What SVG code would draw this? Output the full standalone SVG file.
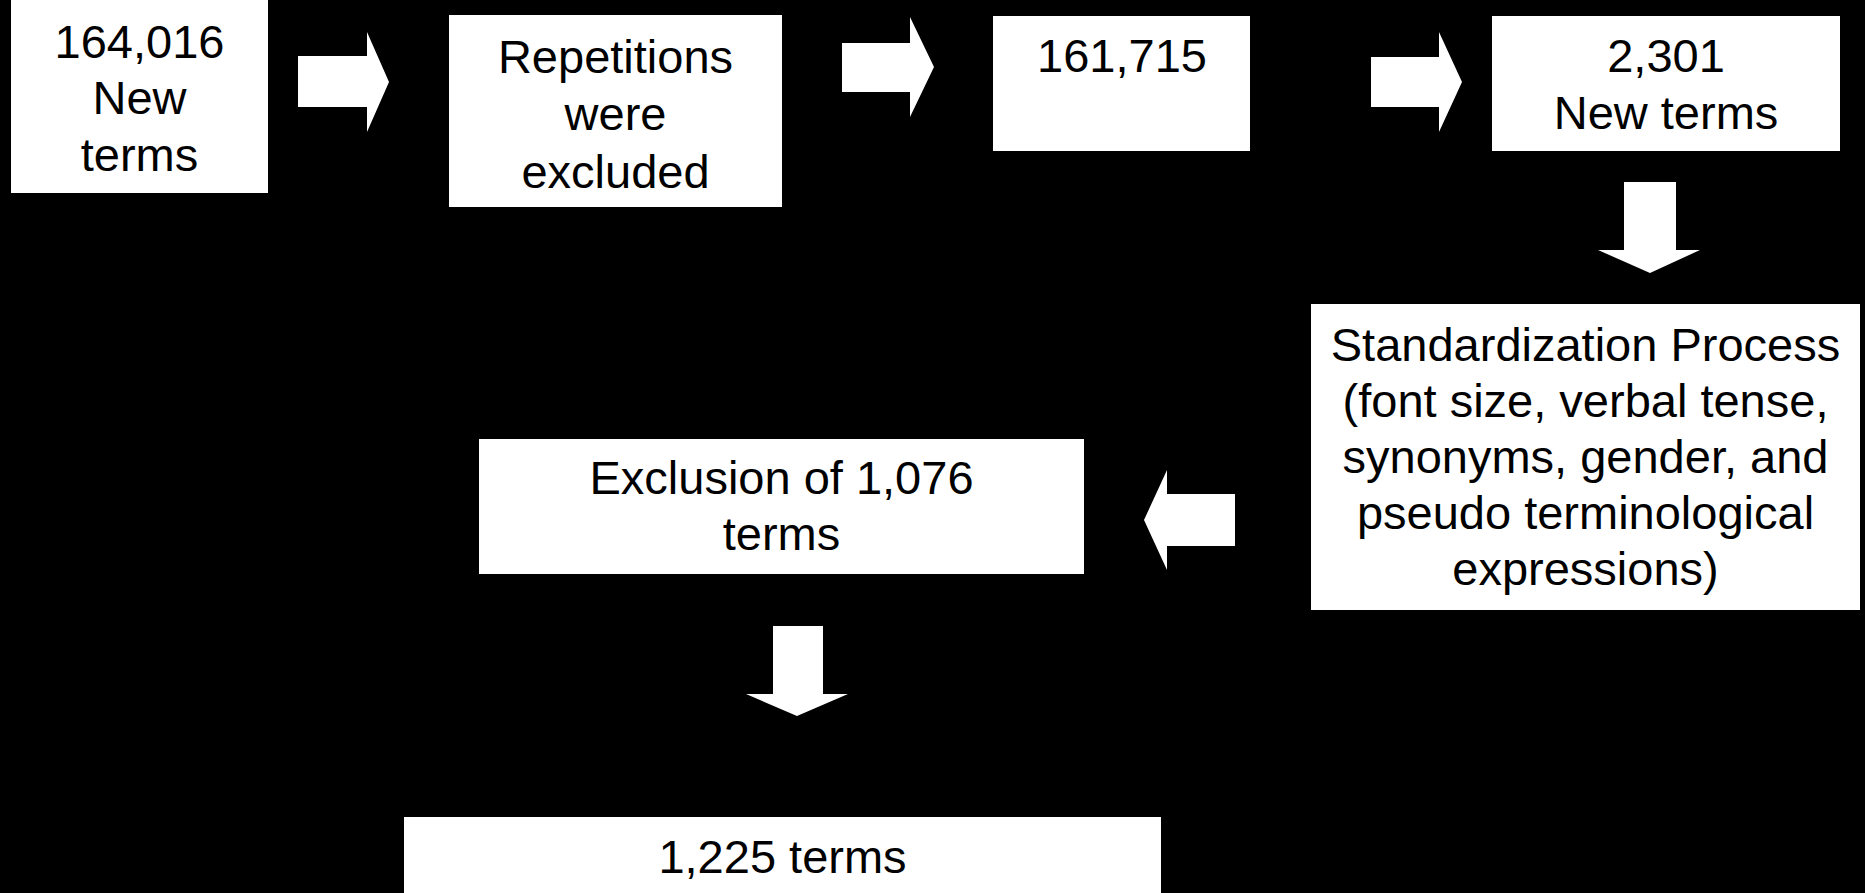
<svg xmlns="http://www.w3.org/2000/svg" width="1865" height="893" viewBox="0 0 1865 893">
<style>
.box{fill:#ffffff;stroke:none}
.arr{fill:#ffffff;stroke:none}
.t{font-family:"Liberation Sans",Arial,sans-serif;font-size:47px;fill:#000000;text-anchor:middle}
</style>
<rect x="0" y="0" width="1865" height="893" fill="#000000"/>
<g id="connectors">
<path class="arr" d="M298,56 H367 V32 L389,82 L367,132 V107 H298 Z"/>
<path class="arr" d="M842,43 H910 V17 L934,67 L910,117 V92 H842 Z"/>
<path class="arr" d="M1371,57 H1439 V32 L1462,82 L1439,132 V107 H1371 Z"/>
<path class="arr" d="M1624,182 H1676 V250 H1700 L1650,273 L1598,250 H1624 Z"/>
<path class="arr" d="M1235,494 H1167 V470 L1144,520 L1167,570 V546 H1235 Z"/>
<path class="arr" d="M773,626 H823 V694 H848 L797,716 L746,694 H773 Z"/>
</g>
<g id="n1">
<rect class="box" x="11" y="0" width="257" height="193"/>
<text class="t" x="139.5" y="58">164,016</text>
<text class="t" x="139.5" y="114">New</text>
<text class="t" x="139.5" y="171">terms</text>
</g>
<g id="n2">
<rect class="box" x="449" y="15" width="333" height="192"/>
<text class="t" x="615.5" y="73">Repetitions</text>
<text class="t" x="615.5" y="130">were</text>
<text class="t" x="615.5" y="188">excluded</text>
</g>
<g id="n3">
<rect class="box" x="993" y="16" width="257" height="135"/>
<text class="t" x="1122" y="72">161,715</text>
</g>
<g id="n4">
<rect class="box" x="1492" y="16" width="348" height="135"/>
<text class="t" x="1666" y="72">2,301</text>
<text class="t" x="1666" y="129">New terms</text>
</g>
<g id="n5">
<rect class="box" x="1311" y="304" width="549" height="306"/>
<text class="t" x="1585.5" y="361">Standardization Process</text>
<text class="t" x="1585.5" y="417">(font size, verbal tense,</text>
<text class="t" x="1585.5" y="473">synonyms, gender, and</text>
<text class="t" x="1585.5" y="529">pseudo terminological</text>
<text class="t" x="1585.5" y="585">expressions)</text>
</g>
<g id="n6">
<rect class="box" x="479" y="439" width="605" height="135"/>
<text class="t" x="781.5" y="494">Exclusion of 1,076</text>
<text class="t" x="781.5" y="550">terms</text>
</g>
<g id="n7">
<rect class="box" x="404" y="817" width="757" height="76"/>
<text class="t" x="782.5" y="873">1,225 terms</text>
</g>
</svg>
